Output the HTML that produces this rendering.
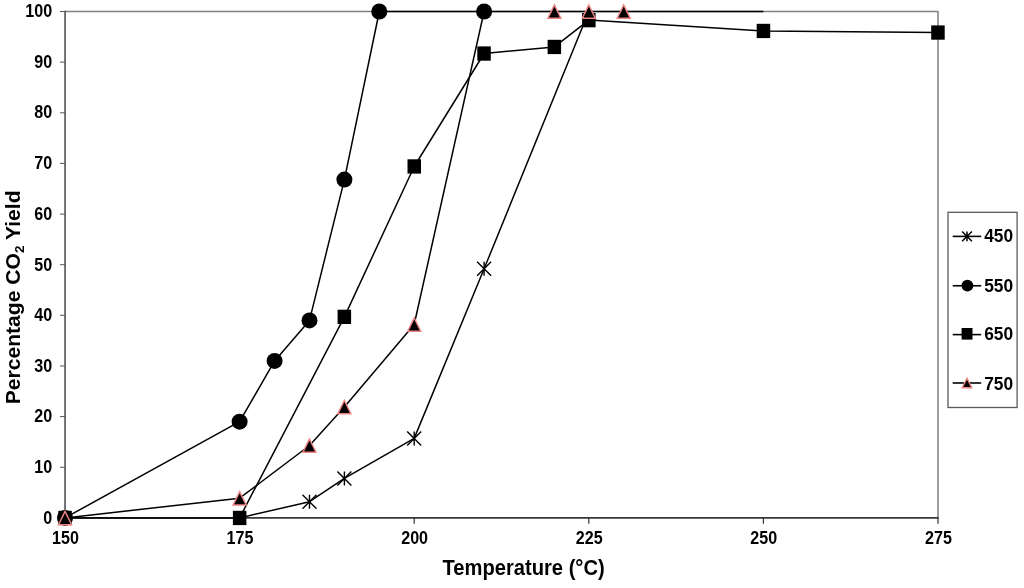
<!DOCTYPE html>
<html><head><meta charset="utf-8"><title>Percentage CO2 Yield vs Temperature</title>
<style>
html,body{margin:0;padding:0;background:#fff;}
body{width:1024px;height:588px;overflow:hidden;}
svg{display:block;}
text{font-family:"Liberation Sans",Arial,Helvetica,sans-serif;font-weight:bold;fill:#000;}
.t{font-size:17.6px;}
.l{font-size:17.9px;}
.xa{font-size:22.4px;}
.ya{font-size:21.1px;}
</style></head><body>
<svg width="1024" height="588" viewBox="0 0 1024 588">
<rect width="1024" height="588" fill="#fff"/>
<path d="M65.05 11.50H938.00V517.90" fill="none" stroke="#808080" stroke-width="1.5" stroke-linejoin="round"/>
<line x1="65.05" y1="10.80" x2="65.05" y2="517.90" stroke="#5c5c5c" stroke-width="1.7"/>
<line x1="64.25" y1="517.90" x2="938.80" y2="517.90" stroke="#383838" stroke-width="1.6"/>
<line x1="60.0" y1="517.9" x2="65.0" y2="517.9" stroke="#555" stroke-width="1"/>
<text transform="translate(52.1,523.5) scale(0.915,1)" text-anchor="end" class="t">0</text>
<line x1="60.0" y1="467.3" x2="65.0" y2="467.3" stroke="#555" stroke-width="1"/>
<text transform="translate(52.1,472.9) scale(0.915,1)" text-anchor="end" class="t">10</text>
<line x1="60.0" y1="416.6" x2="65.0" y2="416.6" stroke="#555" stroke-width="1"/>
<text transform="translate(52.1,422.2) scale(0.915,1)" text-anchor="end" class="t">20</text>
<line x1="60.0" y1="366.0" x2="65.0" y2="366.0" stroke="#555" stroke-width="1"/>
<text transform="translate(52.1,371.6) scale(0.915,1)" text-anchor="end" class="t">30</text>
<line x1="60.0" y1="315.3" x2="65.0" y2="315.3" stroke="#555" stroke-width="1"/>
<text transform="translate(52.1,320.9) scale(0.915,1)" text-anchor="end" class="t">40</text>
<line x1="60.0" y1="264.7" x2="65.0" y2="264.7" stroke="#555" stroke-width="1"/>
<text transform="translate(52.1,271.1) scale(0.915,1)" text-anchor="end" class="t">50</text>
<line x1="60.0" y1="214.1" x2="65.0" y2="214.1" stroke="#555" stroke-width="1"/>
<text transform="translate(52.1,219.7) scale(0.915,1)" text-anchor="end" class="t">60</text>
<line x1="60.0" y1="163.4" x2="65.0" y2="163.4" stroke="#555" stroke-width="1"/>
<text transform="translate(52.1,169.0) scale(0.915,1)" text-anchor="end" class="t">70</text>
<line x1="60.0" y1="112.8" x2="65.0" y2="112.8" stroke="#555" stroke-width="1"/>
<text transform="translate(52.1,118.4) scale(0.915,1)" text-anchor="end" class="t">80</text>
<line x1="60.0" y1="62.1" x2="65.0" y2="62.1" stroke="#555" stroke-width="1"/>
<text transform="translate(52.1,67.7) scale(0.915,1)" text-anchor="end" class="t">90</text>
<line x1="60.0" y1="11.5" x2="65.0" y2="11.5" stroke="#555" stroke-width="1"/>
<text transform="translate(52.1,17.1) scale(0.915,1)" text-anchor="end" class="t">100</text>
<line x1="65.0" y1="517.9" x2="65.0" y2="523.7" stroke="#333" stroke-width="1.2"/>
<text transform="translate(65.5,543.6) scale(0.915,1)" text-anchor="middle" class="t">150</text>
<line x1="239.6" y1="517.9" x2="239.6" y2="523.7" stroke="#333" stroke-width="1.2"/>
<text transform="translate(240.0,543.6) scale(0.915,1)" text-anchor="middle" class="t">175</text>
<line x1="414.2" y1="517.9" x2="414.2" y2="523.7" stroke="#333" stroke-width="1.2"/>
<text transform="translate(414.6,543.6) scale(0.915,1)" text-anchor="middle" class="t">200</text>
<line x1="588.8" y1="517.9" x2="588.8" y2="523.7" stroke="#333" stroke-width="1.2"/>
<text transform="translate(589.2,543.6) scale(0.915,1)" text-anchor="middle" class="t">225</text>
<line x1="763.4" y1="517.9" x2="763.4" y2="523.7" stroke="#333" stroke-width="1.2"/>
<text transform="translate(763.8,543.6) scale(0.915,1)" text-anchor="middle" class="t">250</text>
<line x1="938.0" y1="517.9" x2="938.0" y2="523.7" stroke="#333" stroke-width="1.2"/>
<text transform="translate(938.4,543.6) scale(0.915,1)" text-anchor="middle" class="t">275</text>
<polyline points="239.6,517.9 309.5,501.7 344.4,478.4 414.2,438.4 484.1,268.8 588.8,11.5 763.4,11.5" fill="none" stroke="#000" stroke-width="1.5" stroke-linejoin="round"/>
<path d="M302.5 494.7L316.5 508.7M302.5 508.7L316.5 494.7M309.5 494.7L309.5 508.7" stroke="#000" stroke-width="1.4" fill="none"/>
<path d="M337.4 471.4L351.4 485.4M337.4 485.4L351.4 471.4M344.4 471.4L344.4 485.4" stroke="#000" stroke-width="1.4" fill="none"/>
<path d="M407.2 431.4L421.2 445.4M407.2 445.4L421.2 431.4M414.2 431.4L414.2 445.4" stroke="#000" stroke-width="1.4" fill="none"/>
<path d="M477.1 261.8L491.1 275.8M477.1 275.8L491.1 261.8M484.1 261.8L484.1 275.8" stroke="#000" stroke-width="1.4" fill="none"/>
<polyline points="65.0,517.9 239.6,421.7 274.6,360.9 309.5,320.4 344.4,179.6 379.3,11.5 484.1,11.5 588.8,11.5" fill="none" stroke="#000" stroke-width="1.5" stroke-linejoin="round"/>
<circle cx="65.0" cy="517.9" r="8" fill="#000"/>
<circle cx="239.6" cy="421.7" r="8" fill="#000"/>
<circle cx="274.6" cy="360.9" r="8" fill="#000"/>
<circle cx="309.5" cy="320.4" r="8" fill="#000"/>
<circle cx="344.4" cy="179.6" r="8" fill="#000"/>
<circle cx="379.3" cy="11.5" r="8" fill="#000"/>
<circle cx="484.1" cy="11.5" r="8" fill="#000"/>
<polyline points="65.0,517.9 239.6,517.9 344.4,316.9 414.2,166.5 484.1,53.5 554.4,46.9 588.8,20.1 763.4,31.0 938.0,32.5" fill="none" stroke="#000" stroke-width="1.5" stroke-linejoin="round"/>
<rect x="58.3" y="510.8" width="13.5" height="14.3" fill="#000"/>
<rect x="232.9" y="510.8" width="13.5" height="14.3" fill="#000"/>
<rect x="337.6" y="309.7" width="13.5" height="14.3" fill="#000"/>
<rect x="407.5" y="159.3" width="13.5" height="14.3" fill="#000"/>
<rect x="477.3" y="46.4" width="13.5" height="14.3" fill="#000"/>
<rect x="547.6" y="39.8" width="13.5" height="14.3" fill="#000"/>
<rect x="582.1" y="13.0" width="13.5" height="14.3" fill="#000"/>
<rect x="756.7" y="23.8" width="13.5" height="14.3" fill="#000"/>
<rect x="931.2" y="25.4" width="13.5" height="14.3" fill="#000"/>
<polyline points="65.0,517.9 239.6,498.2 309.5,445.5 344.4,407.0 414.2,324.5 484.1,11.5" fill="none" stroke="#000" stroke-width="1.5" stroke-linejoin="round"/>
<path d="M65.05 511.40L71.55 524.70L58.55 524.70Z" fill="#000" stroke="#ee8585" stroke-width="1.45" stroke-linejoin="miter"/>
<path d="M239.64 491.65L246.14 504.95L233.14 504.95Z" fill="#000" stroke="#ee8585" stroke-width="1.45" stroke-linejoin="miter"/>
<path d="M309.48 438.98L315.98 452.28L302.98 452.28Z" fill="#000" stroke="#ee8585" stroke-width="1.45" stroke-linejoin="miter"/>
<path d="M344.39 400.50L350.89 413.80L337.89 413.80Z" fill="#000" stroke="#ee8585" stroke-width="1.45" stroke-linejoin="miter"/>
<path d="M414.23 317.96L420.73 331.26L407.73 331.26Z" fill="#000" stroke="#ee8585" stroke-width="1.45" stroke-linejoin="miter"/>
<path d="M554.39 5.00L560.89 18.30L547.89 18.30Z" fill="#000" stroke="#ee8585" stroke-width="1.45" stroke-linejoin="miter"/>
<path d="M588.82 5.00L595.32 18.30L582.32 18.30Z" fill="#000" stroke="#ee8585" stroke-width="1.45" stroke-linejoin="miter"/>
<path d="M623.74 5.00L630.24 18.30L617.24 18.30Z" fill="#000" stroke="#ee8585" stroke-width="1.45" stroke-linejoin="miter"/>
<rect x="948" y="212.3" width="69.1" height="195.2" fill="#fff" stroke="#5a5a5a" stroke-width="1.3"/>
<line x1="952.7" y1="236.4" x2="981.2" y2="236.4" stroke="#000" stroke-width="1.6"/>
<text transform="translate(984.2,241.8) scale(0.97,1)" class="l">450</text>
<line x1="952.7" y1="285.75" x2="981.2" y2="285.75" stroke="#000" stroke-width="1.6"/>
<text transform="translate(984.2,291.8) scale(0.97,1)" class="l">550</text>
<line x1="952.7" y1="334.6" x2="981.2" y2="334.6" stroke="#000" stroke-width="1.6"/>
<text transform="translate(984.2,340.2) scale(0.97,1)" class="l">650</text>
<line x1="952.7" y1="383.0" x2="981.2" y2="383.0" stroke="#000" stroke-width="1.6"/>
<text transform="translate(984.2,389.8) scale(0.97,1)" class="l">750</text>
<path d="M962.1 231.5L971.9 241.3M962.1 241.3L971.9 231.5M967.0 231.5L967.0 241.3" stroke="#000" stroke-width="1.5" fill="none"/>
<circle cx="967.4" cy="285.6" r="5.95" fill="#000"/>
<rect x="961.6" y="328.0" width="10.9" height="11.6" fill="#000"/>
<path d="M967.00 378.20L971.80 387.80L962.20 387.80Z" fill="#000" stroke="#ee8585" stroke-width="1.4" stroke-linejoin="miter"/>
<text transform="translate(523.6,575.4) scale(0.9,1)" text-anchor="middle" class="xa">Temperature (°C)</text>
<text transform="translate(20.4,297.4) rotate(-90) scale(1.0,1)" text-anchor="middle" class="ya">Percentage CO<tspan dy="4" font-size="13.5">2</tspan><tspan dy="-4"> Yield</tspan></text>
</svg>
</body></html>
